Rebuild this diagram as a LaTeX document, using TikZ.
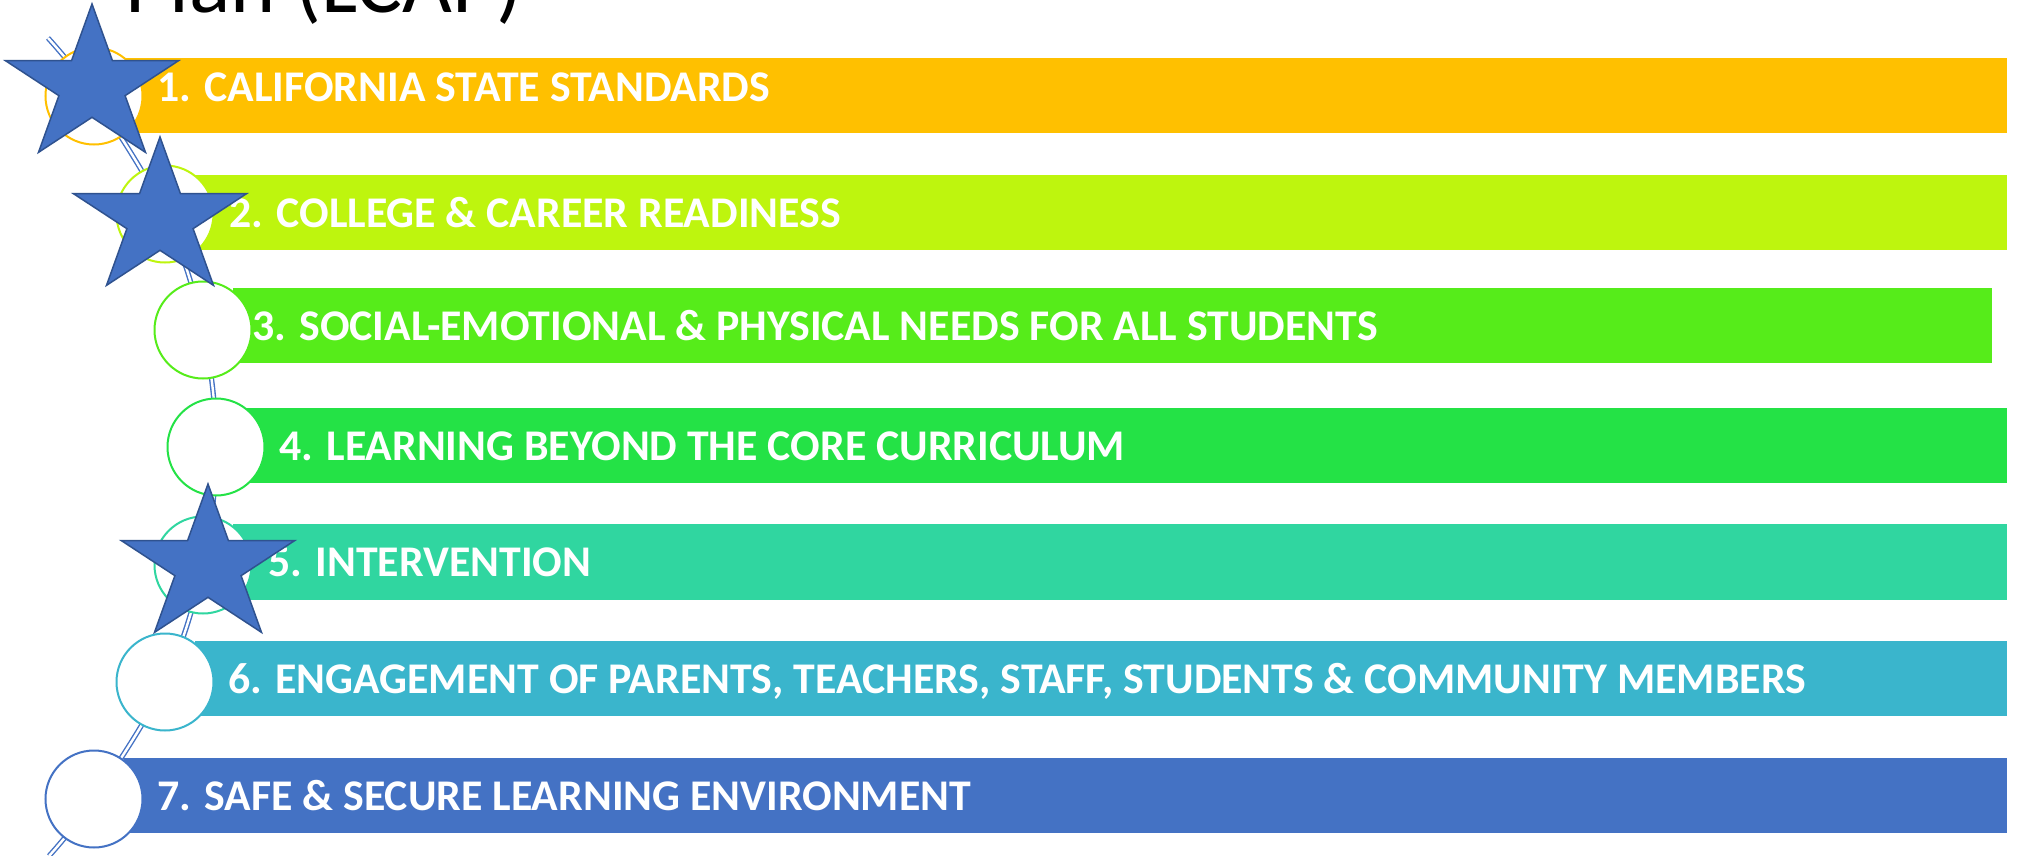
\documentclass[tikz,border=0pt]{standalone}
\usepackage{fontspec}
\setmainfont{Carlito}
\usetikzlibrary{calc}
\definecolor{c1}{HTML}{FFC000}
\definecolor{c2}{HTML}{BEF50E}
\definecolor{c3}{HTML}{56EC1A}
\definecolor{c4}{HTML}{24E246}
\definecolor{c5}{HTML}{30D6A0}
\definecolor{c6}{HTML}{3AB5CC}
\definecolor{c7}{HTML}{4472C4}
\definecolor{starfill}{HTML}{4472C4}
\definecolor{staredge}{HTML}{2F528F}
\tikzset{
  barbox/.style={fill=#1, draw=none},
  ring/.style={circle, draw=#1, line width=1pt, fill=white, minimum size=48.5pt, inner sep=0pt},
  barlabel/.style={anchor=base west, inner sep=0pt, text=white, font=\bfseries\fontsize{21.9}{26}\selectfont},
  starstyle/.style={fill=starfill, draw=staredge, line width=0.75pt, line join=miter},
  track/.style={draw=c7, double=white, line width=0.7pt, double distance=1.2pt}
}
\newcommand\mystar[2]{%
  \begin{scope}[shift={(#1,#2)}]
    \draw[starstyle] (-90:91 and 82) -- (-54:34.8 and 31.3) -- (-18:91 and 82) -- (18:34.8 and 31.3)
      -- (54:91 and 82) -- (90:34.8 and 31.3) -- (126:91 and 82) -- (162:34.8 and 31.3)
      -- (198:91 and 82) -- (234:34.8 and 31.3) -- cycle;
  \end{scope}}
\begin{document}
\begin{tikzpicture}[x=0.5pt,y=-0.5pt]
\useasboundingbox (0,0) rectangle (2017,856);
\clip (0,0) rectangle (2017,856);
\fill[white] (0,0) rectangle (2017,856);

% title (cut off at top, as in the reference)
\node[anchor=base west, inner sep=0pt, font=\fontsize{43}{50}\selectfont] (title) at (125,13) {Plan (LCAP)};

% track through the circle centres
\coordinate (t0) at (48,38);
\coordinate (p1) at (94,96);
\coordinate (p2) at (165,214);
\coordinate (p3) at (203,330);
\coordinate (p4) at (216,447);
\coordinate (p5) at (203,565);
\coordinate (p6) at (165,682);
\coordinate (p7) at (94,799);
\coordinate (t8) at (49,856);
\draw[track] plot[smooth, tension=0.6] coordinates {(t0) (p1) (p2) (p3) (p4) (p5) (p6) (p7) (t8)};

% bars
\fill[barbox=c1] (124,58) rectangle (2007,133);
\fill[barbox=c2] (195,175) rectangle (2007,250);
\fill[barbox=c3] (233,288) rectangle (1992,363);
\fill[barbox=c4] (246,408) rectangle (2007,483);
\fill[barbox=c5] (233,524) rectangle (2007,600);
\fill[barbox=c6] (195,641) rectangle (2007,716);
\fill[barbox=c7] (124,758) rectangle (2007,833);

% circles
\node[ring=c1] (r1) at (p1) {};
\node[ring=c2] (r2) at (p2) {};
\node[ring=c3] (r3) at (p3) {};
\node[ring=c4] (r4) at (p4) {};
\node[ring=c5] (r5) at (p5) {};
\node[ring=c6] (r6) at (p6) {};
\node[ring=c7] (r7) at (p7) {};

% labels
\node[barlabel] (l1) at (157,102) {1. CALIFORNIA STATE STANDARDS};
\node[barlabel] (l2) at (229,227) {2. COLLEGE \& CAREER READINESS};
\node[barlabel] (l3) at (252,340) {3. SOCIAL-EMOTIONAL \& PHYSICAL NEEDS FOR ALL STUDENTS};
\node[barlabel] (l4) at (279,460) {4. LEARNING BEYOND THE CORE CURRICULUM};
\node[barlabel] (l5) at (268,576) {5. INTERVENTION};
\node[barlabel] (l6) at (228,693) {6. ENGAGEMENT OF PARENTS, TEACHERS, STAFF, STUDENTS \& COMMUNITY MEMBERS};
\node[barlabel] (l7) at (157,810) {7. SAFE \& SECURE LEARNING ENVIRONMENT};

% stars
\mystar{92}{86}
\mystar{160}{219}
\mystar{208}{566}
\end{tikzpicture}
\end{document}
